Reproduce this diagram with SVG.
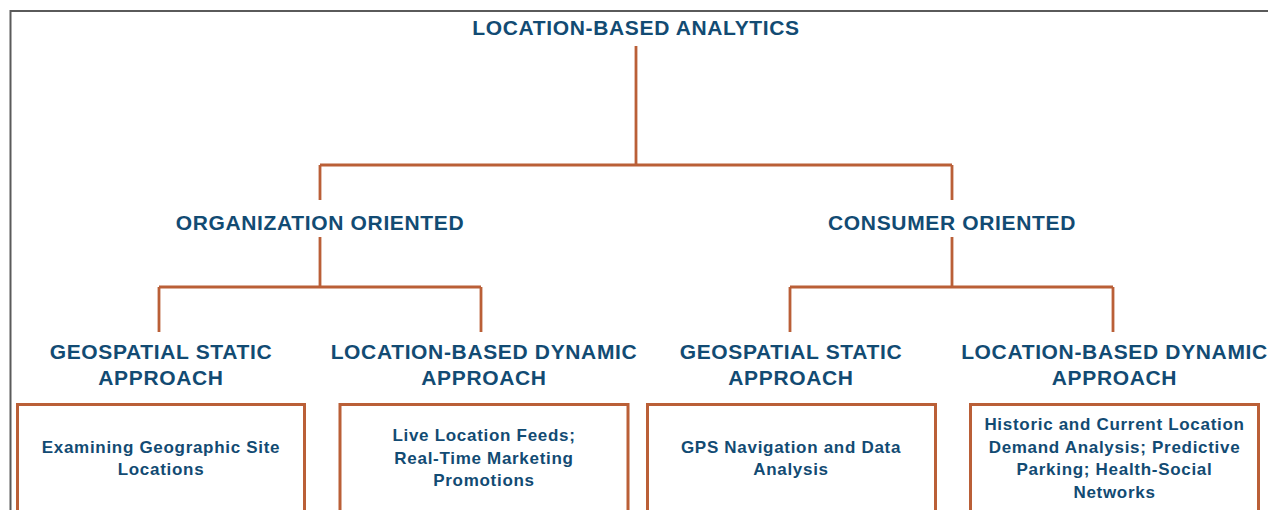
<svg xmlns="http://www.w3.org/2000/svg" width="1268" height="510" viewBox="0 0 1268 510">
<style>
.h{font-family:"Liberation Sans",Arial,sans-serif;font-weight:bold;font-size:21px;fill:#124B73;text-anchor:middle;letter-spacing:0.65px}
.t{font-family:"Liberation Sans",Arial,sans-serif;font-weight:bold;font-size:17px;fill:#124B73;text-anchor:middle;letter-spacing:0.7px}
.c{stroke:#BA5F37;stroke-width:2.8;fill:none}
.b{stroke:#BA5F37;stroke-width:3;fill:#fff}
.f{stroke:#5A5A5A;stroke-width:2;fill:none}
</style>
<rect width="1268" height="510" fill="#fff"/>
<path class="f" d="M10.5 520 V11 H1270"/>
<g id="connectors">
<path class="c" d="M636 46 V165 M320 165 H952 M320 165 V200 M952 165 V200"/>
<path class="c" d="M320 237 V287 M159 287 H481 M159 287 V332 M481 287 V332"/>
<path class="c" d="M952 237 V287 M790 287 H1113 M790 287 V332 M1113 287 V332"/>
</g>
<g id="root"><text class="h" x="636" y="35">LOCATION-BASED ANALYTICS</text></g>
<g id="org"><text class="h" x="320" y="230">ORGANIZATION ORIENTED</text></g>
<g id="cons"><text class="h" x="952" y="230">CONSUMER ORIENTED</text></g>
<g id="org-static">
<text class="h" x="161" y="359">GEOSPATIAL STATIC</text>
<text class="h" x="161" y="385">APPROACH</text>
<rect class="b" x="17.5" y="404.5" width="287" height="120"/>
<text class="t" x="161" y="453">Examining Geographic Site</text>
<text class="t" x="161" y="475">Locations</text>
</g>
<g id="org-dynamic">
<text class="h" x="484" y="359">LOCATION-BASED DYNAMIC</text>
<text class="h" x="484" y="385">APPROACH</text>
<rect class="b" x="340" y="404.5" width="288" height="120"/>
<text class="t" x="484" y="441">Live Location Feeds;</text>
<text class="t" x="484" y="463.5">Real-Time Marketing</text>
<text class="t" x="484" y="486">Promotions</text>
</g>
<g id="cons-static">
<text class="h" x="791" y="359">GEOSPATIAL STATIC</text>
<text class="h" x="791" y="385">APPROACH</text>
<rect class="b" x="647.5" y="404.5" width="288" height="120"/>
<text class="t" x="791" y="453">GPS Navigation and Data</text>
<text class="t" x="791" y="475">Analysis</text>
</g>
<g id="cons-dynamic">
<text class="h" x="1114.5" y="359">LOCATION-BASED DYNAMIC</text>
<text class="h" x="1114.5" y="385">APPROACH</text>
<rect class="b" x="970.5" y="404.5" width="288" height="120"/>
<text class="t" x="1114.5" y="430">Historic and Current Location</text>
<text class="t" x="1114.5" y="452.5">Demand Analysis; Predictive</text>
<text class="t" x="1114.5" y="475">Parking; Health-Social</text>
<text class="t" x="1114.5" y="497.5">Networks</text>
</g>
</svg>
